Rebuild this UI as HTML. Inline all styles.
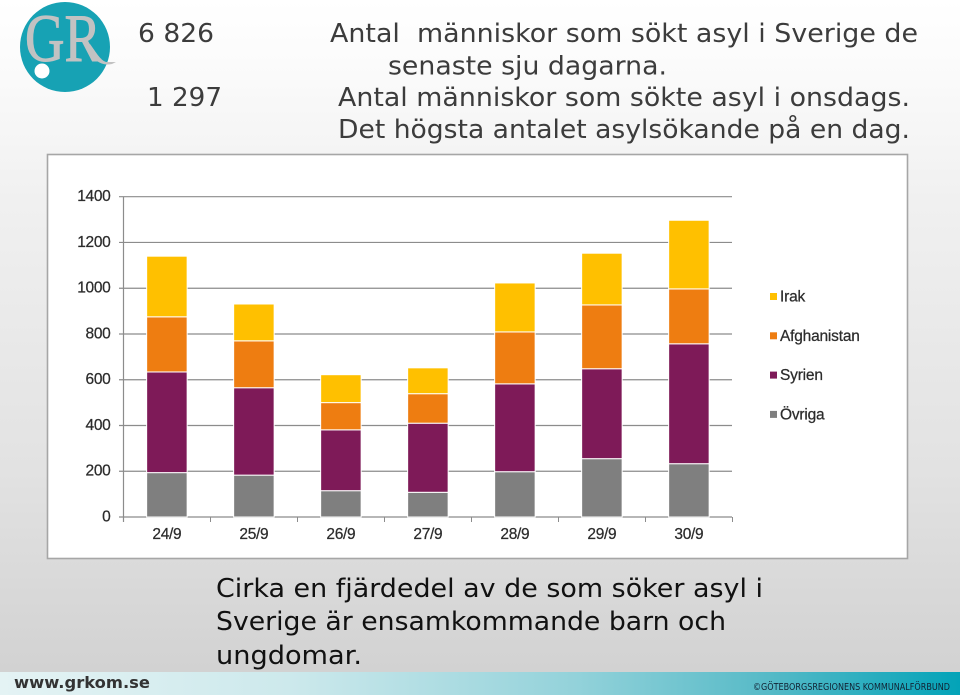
<!DOCTYPE html>
<html lang="sv">
<head>
<meta charset="utf-8">
<title>Asylsökande i Sverige</title>
<style>
html,body{margin:0;padding:0;width:960px;height:695px;overflow:hidden;background:#fff}
svg{display:block}
.head{font-family:"DejaVu Sans","Liberation Sans",sans-serif;font-size:25.5px;fill:#3c3c3c}
.body{font-family:"DejaVu Sans","Liberation Sans",sans-serif;font-size:26px;fill:#111}
.tick{font-family:"Liberation Sans",sans-serif;font-size:15.5px;letter-spacing:-0.3px;fill:#2c2c2c;stroke:#2c2c2c;stroke-width:0.25px}
.leg{font-family:"Liberation Sans",sans-serif;font-size:15.5px;letter-spacing:-0.2px;fill:#2c2c2c;stroke:#2c2c2c;stroke-width:0.25px}
</style>
</head>
<body>
<svg id="root" width="960" height="695" viewBox="0 0 960 695" xmlns="http://www.w3.org/2000/svg">
  <defs>
    <linearGradient id="bg" x1="0" y1="0" x2="0" y2="1">
      <stop offset="0" stop-color="#ffffff"/>
      <stop offset="0.12" stop-color="#fafafa"/>
      <stop offset="0.3" stop-color="#f0f0f0"/>
      <stop offset="0.7" stop-color="#e2e2e2"/>
      <stop offset="1" stop-color="#d2d2d2"/>
    </linearGradient>
    <linearGradient id="foot" x1="0" y1="0" x2="1" y2="0">
      <stop offset="0" stop-color="#e4f3f4"/>
      <stop offset="0.3" stop-color="#cde9ec"/>
      <stop offset="0.6" stop-color="#93d2da"/>
      <stop offset="0.8" stop-color="#56bac7"/>
      <stop offset="1" stop-color="#03a3b8"/>
    </linearGradient>
  </defs>
  <rect x="0" y="0" width="960" height="672" fill="url(#bg)"/>
  <rect x="0" y="672" width="960" height="23" fill="url(#foot)"/>

  <g>
    <circle cx="65" cy="47" r="45" fill="#17a2b4"/>
    <text x="25" y="61" font-family="'Liberation Serif',serif" font-size="68" fill="#c2c2c2" stroke="#c2c2c2" stroke-width="1" textLength="76" lengthAdjust="spacingAndGlyphs">GR</text>
    <path d="M90 44 C96 52 100 60 106 62 L116 62 L112 64 C102 66 94 62 86 46 Z" fill="#c2c2c2"/>
    <circle cx="42" cy="71" r="7.5" fill="#ffffff"/>
  </g>

  <text class="head" x="138" y="42" textLength="76" lengthAdjust="spacingAndGlyphs">6 826</text>
  <text class="head" x="330" y="42" textLength="588" lengthAdjust="spacingAndGlyphs" xml:space="preserve">Antal  människor som sökt asyl i Sverige de</text>
  <text class="head" x="388" y="74.5" textLength="279" lengthAdjust="spacingAndGlyphs">senaste sju dagarna.</text>
  <text class="head" x="147" y="106" textLength="75" lengthAdjust="spacingAndGlyphs">1 297</text>
  <text class="head" x="338" y="106" textLength="572" lengthAdjust="spacingAndGlyphs">Antal människor som sökte asyl i onsdags.</text>
  <text class="head" x="338" y="138" textLength="572" lengthAdjust="spacingAndGlyphs">Det högsta antalet asylsökande på en dag.</text>

  <rect x="47.5" y="154.5" width="860" height="404" fill="#ffffff" stroke="#a6a6a6" stroke-width="1.6"/>
  <g id="chart"></g>

  <text class="body" x="216" y="597" textLength="547" lengthAdjust="spacingAndGlyphs">Cirka en fjärdedel av de som söker asyl i</text>
  <text class="body" x="216" y="630" textLength="510" lengthAdjust="spacingAndGlyphs">Sverige är ensamkommande barn och</text>
  <text class="body" x="216" y="664" textLength="146" lengthAdjust="spacingAndGlyphs">ungdomar.</text>

  <text x="14" y="688" font-family="'DejaVu Sans',sans-serif" font-weight="bold" font-size="16" fill="#333" textLength="136" lengthAdjust="spacingAndGlyphs">www.grkom.se</text>
  <text x="753" y="690" font-family="'DejaVu Sans',sans-serif" font-size="10" fill="#123" textLength="197" lengthAdjust="spacingAndGlyphs">©GÖTEBORGSREGIONENS KOMMUNALFÖRBUND</text>
</svg>
<script>
var categories = ['24/9','25/9','26/9','27/9','28/9','29/9','30/9'];
var ovriga = [194,183,115,108,198,255,233];
var syrien = [440,382,266,302,384,393,524];
var afghanistan = [241,205,119,129,227,279,240];
var irak = [265,161,122,113,214,226,300];
var seriesNames = ['Övriga','Syrien','Afghanistan','Irak'];
var seriesColors = ['#7f7f7f','#7e1a58','#ee7d11','#ffc000'];
var yTicks = [0,200,400,600,800,1000,1200,1400];

var NS = 'http://www.w3.org/2000/svg';
var chart = document.getElementById('chart');
var plot = {left:123, right:732, top:196.7, bottom:517, yMax:1400};
var barWidth = 40.5;
function yScale(v){ return plot.bottom - (v/plot.yMax)*(plot.bottom-plot.top); }
function bandWidth(){ return (plot.right-plot.left)/categories.length; }
function xCenter(i){ return plot.left + bandWidth()*(i+0.5) + 0.4; }
function mk(tag, attrs, parent){
  var el = document.createElementNS(NS, tag);
  for (var k in attrs) el.setAttribute(k, attrs[k]);
  (parent||chart).appendChild(el);
  return el;
}
yTicks.forEach(function(t){
  var y = yScale(t);
  var g = mk('line',{x1:plot.left-4,x2:plot.right,y1:y,y2:y,stroke:'#8c8c8c','stroke-width':1.2});
  
  
  var l = mk('text',{x:110.5,y:y+4.5,'text-anchor':'end','class':'tick'});
  l.textContent = t;
  
  
});
var yAxis = mk('line',{x1:plot.left+0.5,x2:plot.left+0.5,y1:plot.top,y2:plot.bottom+5,stroke:'#8c8c8c','stroke-width':1.2});


for (var c=0;c<=categories.length;c++){
  var xt = Math.round(plot.left+bandWidth()*c)+0.5;
  var tk = mk('line',{x1:xt,x2:xt,y1:plot.bottom,y2:plot.bottom+5,stroke:'#8c8c8c','stroke-width':1});
  
  
}
var seriesData = [ovriga,syrien,afghanistan,irak];
categories.forEach(function(cat,i){
  var base = 0;
  seriesData.forEach(function(vals,s){
    var top = base + vals[i];
    var yT = yScale(top), yB = yScale(base);
    var r = mk('rect',{x:xCenter(i)-barWidth/2,y:yT,width:barWidth,height:yB-yT,fill:seriesColors[s],stroke:'#ffffff','stroke-width':1});
    
    
    base = top;
  });
  var l = mk('text',{x:xCenter(i),y:539,'text-anchor':'middle','class':'tick'});
  l.textContent = cat;
  
  
});
var legendOrder = [3,2,1,0];
legendOrder.forEach(function(s,n){
  var y = 296.5 + n*39.3;
  var sw = mk('rect',{x:770,y:y-3.5,width:7,height:7,fill:seriesColors[s]});
  
  
  var t = mk('text',{x:780,y:y+5,'class':'leg'});
  t.textContent = seriesNames[s];
  
  
});
</script>
</body>
</html>
